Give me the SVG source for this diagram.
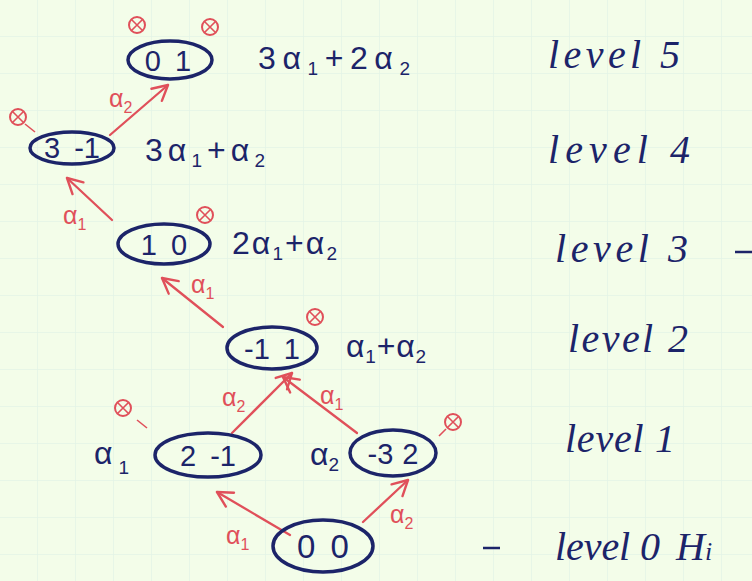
<svg xmlns="http://www.w3.org/2000/svg" width="752" height="581" viewBox="0 0 752 581">
<defs>
<pattern id="grid" x="0" y="0" width="38" height="37" patternUnits="userSpaceOnUse">
<path d="M38 0V37M0 37H38" fill="none" stroke="#e4f4e6" stroke-width="1.5"/>
</pattern>
<marker id="ah" viewBox="0 0 20 20" refX="18" refY="10" markerWidth="20" markerHeight="20" markerUnits="userSpaceOnUse" orient="auto">
<path d="M3 2L18 10L3 18" fill="none" stroke="#e0505a" stroke-width="2.4" stroke-linecap="round" stroke-linejoin="round"/>
</marker>
<g id="cx">
<circle r="8" fill="none" stroke="#e0505a" stroke-width="2"/>
<path d="M-5.5 -5.5L5.5 5.5M5.5 -5.5L-5.5 5.5" stroke="#e0505a" stroke-width="1.6"/>
</g>
</defs>
<style>
.ell{fill:none;stroke:#1c2469;stroke-width:3.5}
.num{font-family:"Liberation Sans",Arial,sans-serif;font-size:29px;fill:#1c2469;text-anchor:middle;word-spacing:6px}
.math{font-family:"Liberation Sans",Arial,sans-serif;font-size:32px;fill:#1c2469}
.lvl{font-family:"Liberation Serif","Times New Roman",serif;font-style:italic;font-size:40px;fill:#1c2469}
.rl{font-family:"Liberation Sans",Arial,sans-serif;font-size:25px;fill:#e0505a}
.sub{font-size:19px}
.rsub{font-size:16px}
.conn{fill:none;stroke:#e0505a;stroke-width:2.3;stroke-linecap:round;marker-end:url(#ah)}
.dash{stroke:#e0505a;stroke-width:1.6}
</style>
<rect width="752" height="581" fill="#f3fde9"/>
<rect width="752" height="581" fill="url(#grid)"/>

<g id="connectors">
<path class="conn" d="M290 535L217 492"/>
<path class="conn" d="M363 522L408 480"/>
<path class="conn" d="M232 433L292 373"/>
<path class="conn" d="M357 433L283 377"/>
<path class="conn" d="M223 327L162 278"/>
<path class="conn" d="M112 220L67 178"/>
<path class="conn" d="M110 135L168 85"/>
<text class="rl" x="226" y="544">α<tspan class="rsub" dy="6">1</tspan></text>
<text class="rl" x="390" y="523">α<tspan class="rsub" dy="6">2</tspan></text>
<text class="rl" x="222" y="406">α<tspan class="rsub" dy="6">2</tspan></text>
<text class="rl" x="320" y="404">α<tspan class="rsub" dy="6">1</tspan></text>
<text class="rl" x="191" y="293">α<tspan class="rsub" dy="6">1</tspan></text>
<text class="rl" x="63" y="224">α<tspan class="rsub" dy="6">1</tspan></text>
<text class="rl" x="109" y="107">α<tspan class="rsub" dy="6">2</tspan></text>
</g>

<g id="node-01">
<ellipse class="ell" cx="170" cy="60" rx="42" ry="19"/>
<text class="num" x="168" y="71">0 1</text>
<use href="#cx" x="137" y="25"/>
<use href="#cx" x="210" y="27"/>
</g>
<g id="node-3-1">
<ellipse class="ell" cx="72" cy="148" rx="42" ry="16"/>
<text class="num" x="72" y="158">3 -1</text>
<use href="#cx" x="18" y="117"/>
<path class="dash" d="M25 124L35 132"/>
</g>
<g id="node-10">
<ellipse class="ell" cx="164" cy="244" rx="46" ry="20"/>
<text class="num" x="164" y="255">1 0</text>
<use href="#cx" x="205" y="215"/>
</g>
<g id="node--11">
<ellipse class="ell" cx="272" cy="348" rx="45" ry="21"/>
<text class="num" x="272" y="359">-1 1</text>
<use href="#cx" x="315" y="317"/>
</g>
<g id="node-2-1">
<ellipse class="ell" cx="208" cy="455" rx="53" ry="22"/>
<text class="num" x="208" y="466">2 -1</text>
<use href="#cx" x="123" y="408"/>
<path class="dash" d="M137 420L147 428"/>
</g>
<g id="node--32">
<ellipse class="ell" cx="393" cy="453" rx="43" ry="23"/>
<text class="num" x="393" y="464" style="word-spacing:1px">-3 2</text>
<use href="#cx" x="453" y="422"/>
<path class="dash" d="M439 436L446 429"/>
</g>
<g id="node-00">
<ellipse class="ell" cx="323" cy="546" rx="50" ry="26"/>
<text class="num" x="323" y="558" style="font-size:33px">0 0</text>
</g>

<g id="weights">
<text class="math" x="258" y="69" textLength="152" lengthAdjust="spacing">3α<tspan class="sub" dy="6">1</tspan><tspan dy="-6">+2α</tspan><tspan class="sub" dy="6">2</tspan></text>
<text class="math" x="145" y="161" textLength="120" lengthAdjust="spacing">3α<tspan class="sub" dy="6">1</tspan><tspan dy="-6">+α</tspan><tspan class="sub" dy="6">2</tspan></text>
<text class="math" x="232" y="254" textLength="105" lengthAdjust="spacing">2α<tspan class="sub" dy="6">1</tspan><tspan dy="-6">+α</tspan><tspan class="sub" dy="6">2</tspan></text>
<text class="math" x="346" y="357" textLength="80" lengthAdjust="spacing">α<tspan class="sub" dy="6">1</tspan><tspan dy="-6">+α</tspan><tspan class="sub" dy="6">2</tspan></text>
<text class="math" x="94" y="464">α<tspan class="sub" dx="6" dy="10">1</tspan></text>
<text class="math" x="310" y="465">α<tspan class="sub" dy="6">2</tspan></text>
</g>

<g id="levels">
<text class="lvl" x="548" y="68" textLength="132" lengthAdjust="spacing">level 5</text>
<text class="lvl" x="548" y="163" textLength="142" lengthAdjust="spacing">level 4</text>
<text class="lvl" x="555" y="262" textLength="133" lengthAdjust="spacing">level 3</text>
<path d="M735 252H752" stroke="#1c2469" stroke-width="2.5"/>
<text class="lvl" x="568" y="352" textLength="120" lengthAdjust="spacing">level 2</text>
<text class="lvl" x="565" y="452" textLength="110" lengthAdjust="spacing">level 1</text>
<path d="M483 548H500" stroke="#1c2469" stroke-width="2.5"/>
<text class="lvl" x="555" y="560" textLength="105" lengthAdjust="spacing">level 0</text>
<text class="lvl" x="676" y="560">H<tspan style="font-size:26px">i</tspan></text>
</g>
</svg>
